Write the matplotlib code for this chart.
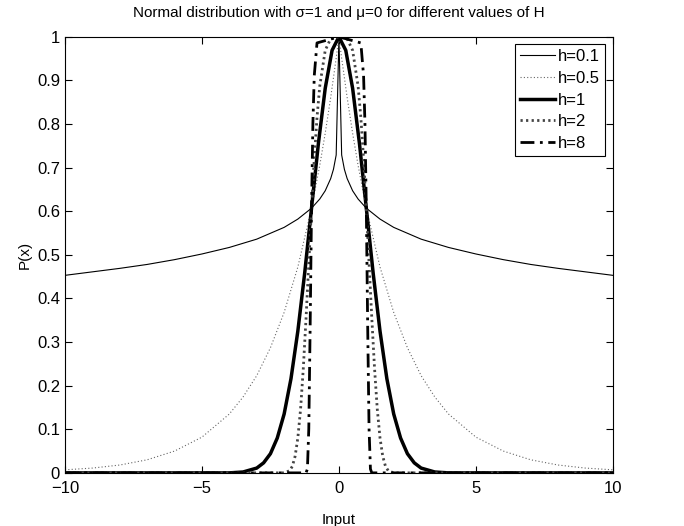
import matplotlib
matplotlib.use("Agg")
import matplotlib.pyplot as plt

plt.rcParams['font.family'] = ['Liberation Sans', 'DejaVu Sans']

# curves (right half, mirrored for the left half)
x_h01 = [0, 0.1, 0.2, 0.3, 0.5, 0.7, 1, 1.5, 2, 3, 4, 5, 6, 7, 8, 9, 10]
y_h01 = [1.0, 0.729, 0.696, 0.675, 0.647, 0.628, 0.607, 0.582, 0.563, 0.536,
         0.517, 0.502, 0.489, 0.478, 0.469, 0.461, 0.453]

x_h05 = [0, 0.1, 0.3, 0.5, 0.7, 1, 1.5, 2, 2.5, 3, 3.5, 4, 5, 6, 7, 8, 9, 10]
y_h05 = [1.0, 0.951, 0.861, 0.779, 0.705, 0.607, 0.472, 0.368, 0.287, 0.223,
         0.174, 0.135, 0.082, 0.050, 0.030, 0.018, 0.011, 0.007]

x_h1 = [0, 0.25, 0.5, 0.75, 1, 1.25, 1.5, 1.75, 2, 2.25, 2.5, 2.75, 3, 3.5, 4, 10]
y_h1 = [1.0, 0.969, 0.882, 0.755, 0.607, 0.458, 0.325, 0.216, 0.135, 0.080,
        0.044, 0.023, 0.011, 0.002, 0.0, 0.0]

x_h2 = [0, 0.3, 0.5, 0.7, 0.8, 0.9, 1, 1.1, 1.2, 1.3, 1.4, 1.5, 1.6, 1.7, 1.8, 2.0, 10]
y_h2 = [1.0, 0.996, 0.969, 0.887, 0.815, 0.720, 0.607, 0.481, 0.355, 0.240,
        0.146, 0.080, 0.038, 0.015, 0.005, 0.0, 0.0]

x_h8 = [0, 0.8, 0.9, 0.95, 1.0, 1.05, 1.1, 1.15, 1.2, 10]
y_h8 = [1.0, 0.986, 0.911, 0.802, 0.607, 0.336, 0.101, 0.009, 0.0, 0.0]

labels = ['h=0.1', 'h=0.5', 'h=1', 'h=2', 'h=8']


def mirror(xs, ys):
    xl = [-v for v in reversed(xs[1:])] + xs
    yl = list(reversed(ys[1:])) + ys
    return xl, yl


fig = plt.figure(figsize=(6.84, 5.26), dpi=100)
ax = fig.add_axes([0.095, 0.101, 0.801, 0.829])

styles = [
    dict(color='black', lw=0.8, ls='-'),
    dict(color='#666666', lw=0.8, ls=(0, (1, 2))),
    dict(color='black', lw=2.5, ls='-'),
    dict(color='#444444', lw=2.0, ls=(0, (0.8, 1.2))),
    dict(color='black', lw=2.0, ls=(0, (5, 2, 1, 2))),
]
curves = [(x_h01, y_h01), (x_h05, y_h05), (x_h1, y_h1), (x_h2, y_h2), (x_h8, y_h8)]
for (xs, ys), lab, st in zip(curves, labels, styles):
    xl, yl = mirror(xs, ys)
    ax.plot(xl, yl, label=lab, **st)

ax.set_xlim(-10, 10)
ax.set_ylim(0, 1)
ax.set_xticks([-10, -5, 0, 5, 10])
ax.set_xticklabels(['\u221210', '\u22125', '0', '5', '10'])
ax.set_yticks([i / 10 for i in range(11)])
ax.set_yticklabels(['0', '0.1', '0.2', '0.3', '0.4', '0.5', '0.6', '0.7', '0.8', '0.9', '1'])
ax.tick_params(direction='in', top=True, right=True, labelsize=12, length=5, width=0.8)
ax.tick_params(axis='x', pad=6)
for s in ax.spines.values():
    s.set_linewidth(0.8)

ax.set_xlabel('Input', fontsize=11, labelpad=12)
ax.set_ylabel('P(x)', fontsize=11)
ax.set_title('Normal distribution with \u03c3=1 and \u03bc=0 for different values of H',
             fontsize=11, pad=14)

leg = ax.legend(loc='upper right', fontsize=12, fancybox=False, framealpha=1,
                edgecolor='black', handlelength=2.1, borderaxespad=0.45,
                labelspacing=0.4, handletextpad=0.2, borderpad=0.3)
leg.get_frame().set_linewidth(0.8)

fig.savefig('out.png', dpi=100)
